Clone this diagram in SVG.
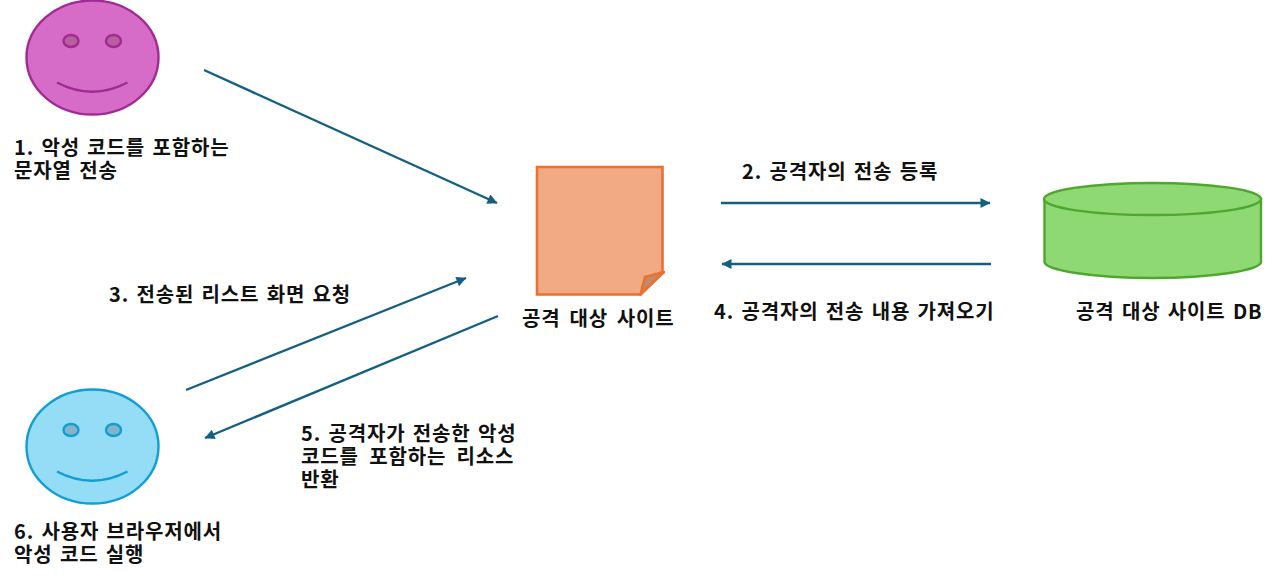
<svg xmlns="http://www.w3.org/2000/svg" width="1280" height="579" viewBox="0 0 1280 579">
<style>
text{font-family:"Noto Sans CJK KR","Noto Sans",sans-serif;font-size:20px;font-weight:700;fill:#111;letter-spacing:.85px;word-spacing:2px}
.conn{stroke:#156082;stroke-width:2.4;fill:none;marker-end:url(#arrow)}
</style>
<defs>
<marker id="arrow" viewBox="0 0 10 10" refX="9.5" refY="5" markerWidth="12" markerHeight="10" markerUnits="userSpaceOnUse" orient="auto"><path d="M0 0L10 5L0 10Z" fill="#156082"/></marker>
</defs>
<rect width="1280" height="579" fill="#fff"/>
<g id="connectors">
<line class="conn" x1="204" y1="70" x2="497" y2="203"/>
<line class="conn" x1="721" y1="203" x2="990" y2="203"/>
<line class="conn" x1="991" y1="264" x2="722" y2="264"/>
<line class="conn" x1="186" y1="390" x2="466" y2="278"/>
<line class="conn" x1="498" y1="316" x2="205" y2="438"/>
</g>
<g id="attacker">
<ellipse cx="92.500" cy="57.500" rx="66" ry="57" fill="#d76bc8" stroke="#a02b93" stroke-width="2.400"/>
<ellipse cx="71" cy="41" rx="7.500" ry="6" fill="#b8609f" stroke="#a02b93" stroke-width="2.400"/>
<ellipse cx="113.500" cy="41" rx="7.500" ry="6" fill="#b8609f" stroke="#a02b93" stroke-width="2.400"/>
<path d="M57 82.500Q92 101 127.500 82.500" fill="none" stroke="#a02b93" stroke-width="2.400"/>
<text x="14" y="155">1. 악성 코드를 포함하는<tspan x="14" dy="23">문자열 전송</tspan></text>
</g>
<g id="site">
<path d="M537 167H662.500V271L640.500 294.500H537Z" fill="#f2aa84" stroke="#e97132" stroke-width="2.600"/>
<path d="M640.500 294.500L645 277L664 272Z" fill="#c48a68" stroke="#e97132" stroke-width="2.600" stroke-linejoin="round"/>
<text x="522" y="325.500" style="word-spacing:3.500px">공격 대상 사이트</text>
</g>
<g id="db">
<path d="M1044.500 199V262C1044.500 270 1092 278 1152.500 278S1261 270 1261 262V199Z" fill="#8ed973" stroke="#4ea72e" stroke-width="2.400"/>
<ellipse cx="1152.500" cy="199" rx="108.500" ry="16" fill="#8ed973" stroke="#4ea72e" stroke-width="2.400"/>
<text x="1076" y="319">공격 대상 사이트 DB</text>
</g>
<g id="user">
<ellipse cx="92.500" cy="446.500" rx="66" ry="57" fill="#95dcf7" stroke="#0f9ed5" stroke-width="2.400"/>
<ellipse cx="71" cy="430" rx="7.500" ry="6" fill="#85b4c6" stroke="#0f9ed5" stroke-width="2.400"/>
<ellipse cx="113.500" cy="430" rx="7.500" ry="6" fill="#85b4c6" stroke="#0f9ed5" stroke-width="2.400"/>
<path d="M57 471.500Q92 490 127.500 471.500" fill="none" stroke="#0f9ed5" stroke-width="2.400"/>
<text x="14" y="539">6. 사용자 브라우저에서<tspan x="14" dy="23">악성 코드 실행</tspan></text>
</g>
<g id="labels">
<text x="742" y="179">2. 공격자의 전송 등록</text>
<text x="109" y="302">3. 전송된 리스트 화면 요청</text>
<text x="714" y="319">4. 공격자의 전송 내용 가져오기</text>
<text x="301" y="441">5. 공격자가 전송한 악성<tspan x="301" dy="23" style="word-spacing:5px">코드를 포함하는 리소스</tspan><tspan x="301" dy="23">반환</tspan></text>
</g>
</svg>
